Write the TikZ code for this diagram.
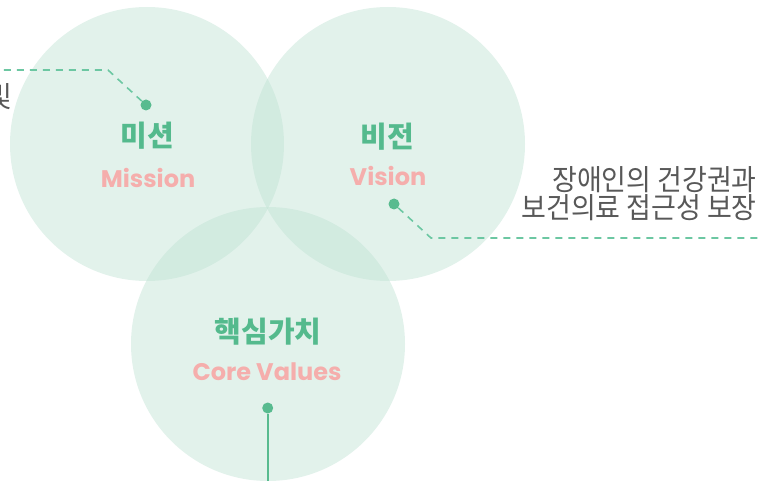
\documentclass[tikz,border=0pt]{standalone}
\usepackage{fontspec}
\setmainfont{Poppins}
\newfontfamily\krfont{Noto Sans CJK KR}
\newfontfamily\krtext[FakeStretch=0.93]{Noto Sans CJK KR}
\definecolor{circfill}{RGB}{191,226,211}
\definecolor{titlegreen}{RGB}{84,186,141}
\definecolor{dotgreen}{RGB}{88,187,143}
\definecolor{dashgreen}{RGB}{108,199,162}
\definecolor{labelpink}{RGB}{245,174,172}
\definecolor{textgray}{RGB}{88,88,88}
\tikzset{
  bubble/.style={fill=circfill, fill opacity=0.45, draw=none},
  krtitle/.style={inner sep=0pt, text=titlegreen, font=\krfont\bfseries\fontsize{29}{32}\selectfont},
  entitle/.style={inner sep=0pt, text=labelpink, font=\bfseries\fontsize{24}{28}\selectfont},
  dotmark/.style={circle, fill=dotgreen, inner sep=0pt, minimum size=11pt},
  leader/.style={draw=dashgreen, line width=1.6pt, dash pattern=on 7pt off 6pt},
  sideline/.style={inner sep=0pt, text=textgray, font=\krtext\fontsize{29}{31}\selectfont},
  stem/.style={draw=dotgreen, line width=1.9pt}
}
\begin{document}
\begin{tikzpicture}[x=1pt,y=-1pt]
\useasboundingbox (0,0) rectangle (761,481);
% circles
\fill[bubble] (147,144) circle (137);
\fill[bubble] (388,144) circle (137);
\fill[bubble] (268,344) circle (137);
% titles
\node[krtitle] (mtitle) at (147,136) {미션};
\node[entitle] (mlabel) at (148,177.5) {Mission};
\node[krtitle] (vtitle) at (387,137) {비전};
\node[entitle] (vlabel) at (388,175.5) {Vision};
\node[krtitle] (ctitle) at (268,331.5) {핵심가치};
\node[entitle] (clabel) at (267,371.5) {Core Values};
% dots
\node[dotmark] (mdot) at (146,105) {};
\node[dotmark] (vdot) at (394,204) {};
\node[dotmark] (cdot) at (267.7,408) {};
% leader coordinates
\coordinate (mcorner) at (108,70);
\coordinate (mend) at (0,70);
\coordinate (vcorner) at (431,238);
\coordinate (vend) at (761,238);
\coordinate (cend) at (267.7,481);
% leaders
\draw[leader] (mdot) -- (mcorner) -- (mend);
\draw[leader] (vdot) -- (vcorner) -- (vend);
\draw[stem] (cdot) -- (cend);
% side texts
\node[sideline, anchor=east] (vtext1) at (757,180) {장애인의 건강권과};
\node[sideline, anchor=east] (vtext2) at (757,208) {보건의료 접근성 보장};
\node[sideline, anchor=east] (mtext) at (12.5,97) {및};
\end{tikzpicture}
\end{document}
